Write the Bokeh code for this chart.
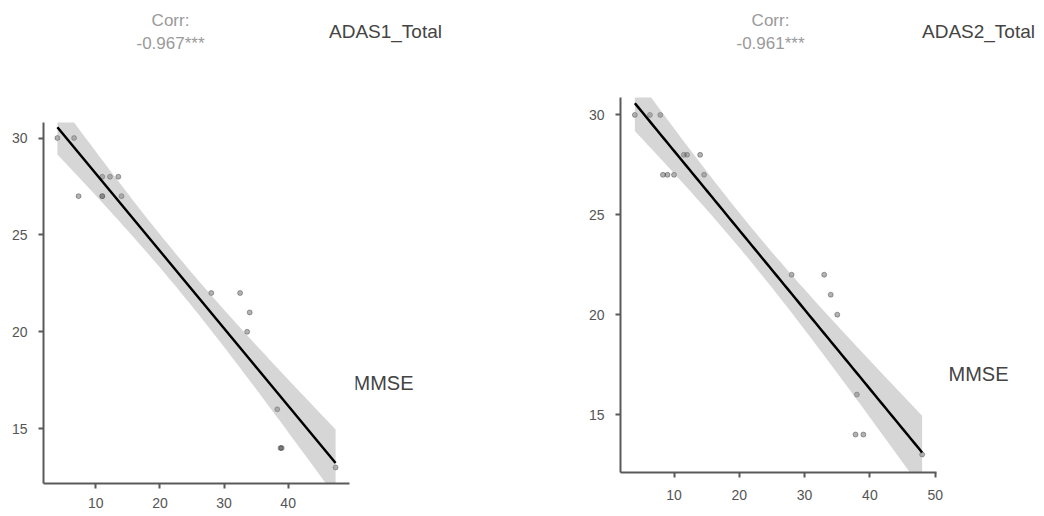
import numpy as np
from bokeh.plotting import figure
from bokeh.models import Range1d, FixedTicker, ColumnDataSource
from bokeh.layouts import row, column
from bokeh.core.properties import value, field
from bokeh.embed import file_html
from bokeh.resources import INLINE

# ---- data ----
adas1_x = [4, 6.6, 7.3, 11, 11, 11, 12.2, 13.5, 14, 28, 32.5, 34, 33.6, 38.3, 38.8, 39, 47.4]
mmse1_y = [30, 30, 27, 27, 27, 28, 28, 28, 27, 22, 22, 21, 20, 16, 14, 14, 13]
adas2_x = [4, 6.3, 7.9, 8.3, 9, 10, 11.5, 12, 14, 14.6, 28, 33, 34, 35, 38, 37.8, 39, 48]
mmse2_y = [30, 30, 30, 27, 27, 27, 28, 28, 28, 27, 22, 22, 21, 20, 16, 14, 14, 13]
corr_title = "Corr:"
corr_labels = ["-0.967***", "-0.961***"]
strip_labels = ["ADAS1_Total", "ADAS2_Total"]
y_name = "MMSE"
x_ticks_1 = [10, 20, 30, 40]
x_ticks_2 = [10, 20, 30, 40, 50]
y_ticks = [15, 20, 25, 30]

T95 = {15: 2.1314, 16: 2.1199}  # two-sided 95% t quantiles

FONT = "Liberation Sans"
AXC = "#5a5a5a"


def fit(x, y):
    x = np.asarray(x, float)
    y = np.asarray(y, float)
    n = len(x)
    b, a = np.polyfit(x, y, 1)
    resid = y - (a + b * x)
    s = np.sqrt((resid ** 2).sum() / (n - 2))
    xs = np.linspace(x.min(), x.max(), 80)
    yh = a + b * xs
    sxx = ((x - x.mean()) ** 2).sum()
    se = s * np.sqrt(1.0 / n + (xs - x.mean()) ** 2 / sxx)
    t = T95[n - 2]
    return xs, yh, yh - t * se, yh + t * se


def text_fig(w, h, items, bb=0):
    p = figure(width=w, height=h, x_range=Range1d(0, w), y_range=Range1d(h - bb, 0),
               min_border=0, min_border_bottom=bb,
               x_axis_location=None, y_axis_location=None,
               toolbar_location=None, output_backend="svg")
    p.outline_line_color = None
    p.xgrid.grid_line_color = None
    p.ygrid.grid_line_color = None
    src = ColumnDataSource(dict(
        x=[i[1] for i in items], y=[i[2] for i in items], text=[i[0] for i in items],
        size=[i[3] for i in items], color=[i[4] for i in items]))
    p.text(x="x", y="y", text="text", source=src, text_align="center",
           text_baseline="middle", text_font=value(FONT),
           text_font_size=field("size"), text_color=field("color"))
    return p


def plot_fig(x, y, xticks, xr, yr, w, h, bl, br, bb, xstand):
    p = figure(width=w, height=h, output_backend="svg", toolbar_location=None,
               x_range=Range1d(*xr), y_range=Range1d(*yr),
               min_border_left=bl, min_border_right=br,
               min_border_top=0, min_border_bottom=bb)
    p.outline_line_color = None
    p.xgrid.grid_line_color = None
    p.ygrid.grid_line_color = None
    p.xaxis.ticker = FixedTicker(ticks=xticks)
    p.yaxis.ticker = FixedTicker(ticks=y_ticks)
    for ax in (p.xaxis[0], p.yaxis[0]):
        ax.axis_line_color = AXC
        ax.axis_line_width = 2
        ax.major_tick_line_color = AXC
        ax.major_tick_line_width = 2
        ax.major_tick_out = 5
        ax.major_tick_in = 0
        ax.minor_tick_line_color = None
        ax.axis_label_standoff = 0
        ax.major_label_text_font = FONT
        ax.major_label_text_font_size = "14px"
        ax.major_label_text_color = "#555555"
    p.xaxis.major_label_standoff = xstand
    p.yaxis.major_label_standoff = 11

    xs, yh, lo, hi = fit(x, y)
    p.scatter(x, y, size=5, color="black", alpha=0.3)
    p.varea(x=xs, y1=lo, y2=hi, fill_color="#999999", fill_alpha=0.4)
    p.line(xs, yh, line_color="black", line_width=2.5)
    return p


GREY = "#9a9a9a"
DARK = "#444444"
CS, SS, MS = "17px", "19px", "20px"

# left panel (x 0..520)
top1 = text_fig(520, 122, [(corr_title, 170, 20, CS, GREY),
                           (corr_labels[0], 170, 43, CS, GREY),
                           (strip_labels[0], 385, 31, SS, DARK)])
plot1 = plot_fig(adas1_x, mmse1_y, x_ticks_1, (1.83, 49.57), (12.17, 30.8),
                 355, 394, 43, 6, 33, 9)
side1 = text_fig(165, 394, [(y_name, 28, 260, MS, DARK)], bb=33)

# right panel (x 520..1044)
top2 = text_fig(524, 97, [(corr_title, 250, 20, CS, GREY),
                          (corr_labels[1], 250, 43, CS, GREY),
                          (strip_labels[1], 458, 31, SS, DARK)])
plot2 = plot_fig(adas2_x, mmse2_y, x_ticks_2, (1.8, 50.2), (12.1, 30.87),
                 428, 419, 100, 12, 44, 12)
side2 = text_fig(96, 419, [(y_name, 30, 276, MS, DARK)], bb=44)

layout = row(column(top1, row(plot1, side1)), column(top2, row(plot2, side2)))
open("out.html", "w").write(file_html(layout, INLINE))
